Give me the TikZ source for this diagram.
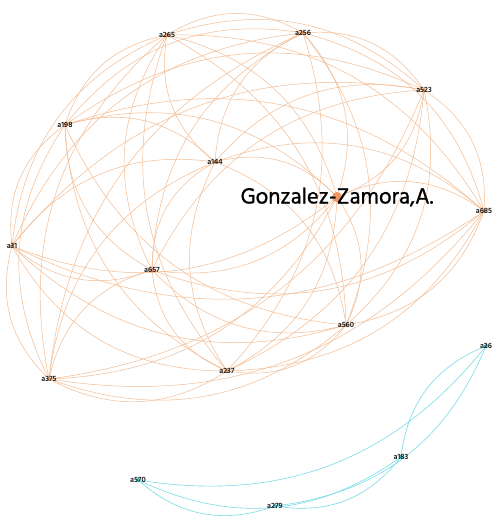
\documentclass[tikz,border=0pt]{standalone}
\usepackage{fontspec}
\setmainfont{Hind Siliguri}
\newfontfamily\namefont[FakeBold=0.9]{Hind Siliguri}
\usetikzlibrary{backgrounds}
\definecolor{edgeorange}{RGB}{244,188,145}
\definecolor{dotorange}{RGB}{240,152,100}
\definecolor{edgecyan}{RGB}{120,220,230}
\definecolor{dotcyan}{RGB}{55,200,215}
\definecolor{labeltext}{RGB}{30,30,30}
\begin{document}
\begin{tikzpicture}[x=1pt,y=-1pt,
  odot/.style={circle,fill=dotorange,inner sep=0pt,minimum size=4pt},
  cdot/.style={circle,fill=dotcyan,inner sep=0pt,minimum size=4pt},
  lbl/.style={text=labeltext,font=\bfseries\fontsize{7.8}{8}\selectfont,inner sep=0pt},
  biglbl/.style={text=black,font=\namefont\fontsize{22.5}{24}\selectfont,inner sep=0pt},
  oedge/.style={draw=edgeorange,line width=0.5pt},
  cedge/.style={draw=edgecyan,line width=0.6pt}]
\useasboundingbox (0,0) rectangle (492,516);

% orange co-author cluster
\def\olist{a265/167/35, a256/303/33, a523/424/90, a198/65/125, a144/215/162,
  gz/337/197, a685/484/211, a31/12/246, a657/152/270, a560/346/325,
  a375/49/379, a237/227/371}
\foreach \n/\x/\y in \olist {\node[odot] (\n) at (\x,\y) {};}
\node[circle,fill=dotorange,inner sep=0pt,minimum size=10pt] (gzdot) at (gz) {};

% cyan cluster
\node[cdot] (a26)  at (486,346) {};
\node[cdot] (a183) at (401,457) {};
\node[cdot] (a570) at (138,480) {};
\node[cdot] (a279) at (275,506) {};

\begin{scope}[on background layer]
  \fill[white] (0,0) rectangle (492,516);
  % every pair of the orange cluster, each arc bulging away from the middle
  \def\cx{250}\def\cy{210}
  \foreach \na/\xa/\ya [count=\i] in \olist {
    \foreach \nb/\xb/\yb [count=\j] in \olist {
      \ifnum\j>\i
        \pgfmathsetmacro\cr{((\xb-\xa)/100)*((\cy-\ya)/100)-((\yb-\ya)/100)*((\cx-\xa)/100)}
        \pgfmathsetmacro\bd{\cr>0 ? 30 : -30}
        \draw[oedge] (\na) to[bend left=\bd] (\nb);
      \fi
    }
  }
  \draw[cedge] (a570) to[bend right=30] (a26);
  \draw[cedge] (a570) to[bend right=30] (a183);
  \draw[cedge] (a570) to[bend right=30] (a279);
  \draw[cedge] (a279) to[bend right=30] (a183);
  \draw[cedge] (a279) to[bend right=30] (a26);
  \draw[cedge] (a183) to[bend left=30] (a26);
\end{scope}

% labels
\foreach \n in {a265,a256,a523,a198,a144,a685,a31,a657,a560,a375,a237,a26,a183,a570,a279}
  {\node[lbl] (t\n) at (\n) {\n};}
\node[biglbl] (tgz) at (gz) {Gonzalez-Zamora,A.};
\end{tikzpicture}
\end{document}
